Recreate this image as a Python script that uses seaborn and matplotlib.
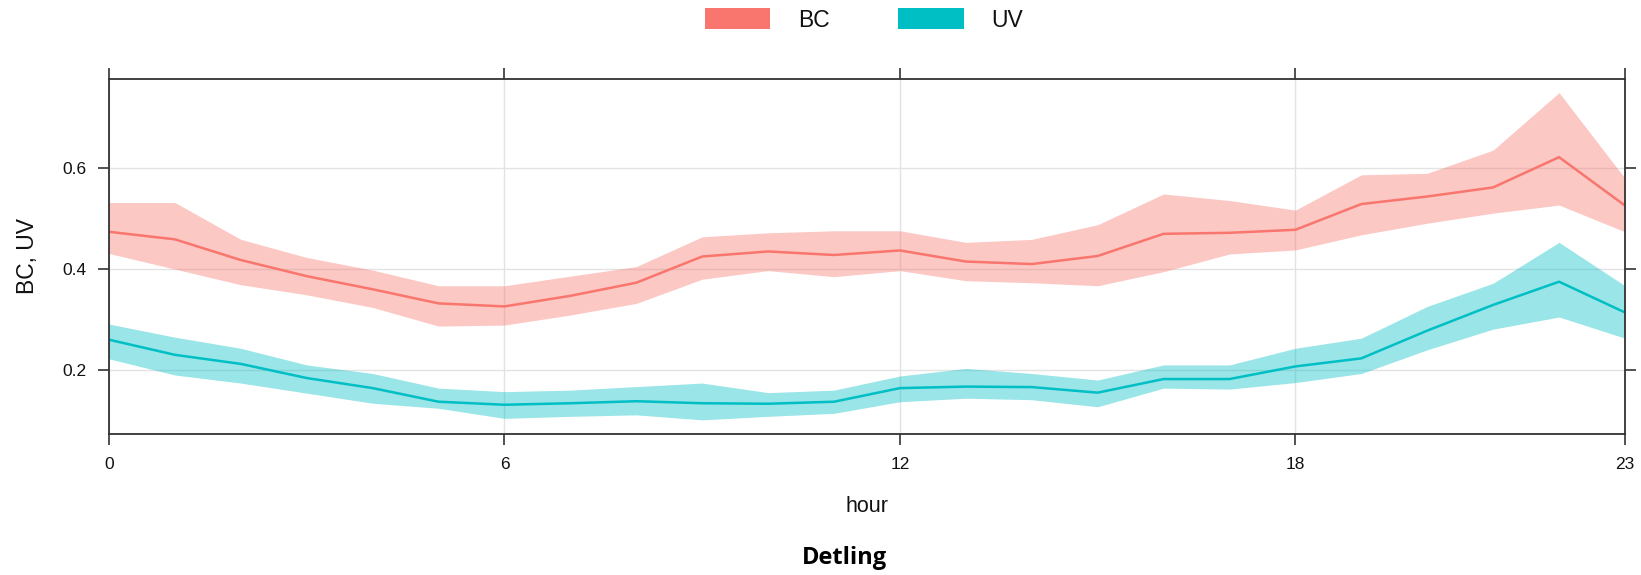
import numpy as np
import pandas as pd
import seaborn as sns
import matplotlib
matplotlib.use("Agg")
import matplotlib.pyplot as plt
from matplotlib.patches import Patch

# ---- data ----
hours = list(range(24))
bc_mean = [0.474, 0.459, 0.418, 0.386, 0.360, 0.332, 0.326, 0.347, 0.373, 0.425, 0.435, 0.428,
           0.437, 0.415, 0.410, 0.426, 0.470, 0.472, 0.478, 0.529, 0.544, 0.562, 0.622, 0.526]
bc_low = [0.431, 0.400, 0.369, 0.349, 0.324, 0.287, 0.289, 0.309, 0.332, 0.380, 0.397, 0.385,
          0.397, 0.377, 0.373, 0.367, 0.395, 0.430, 0.438, 0.468, 0.491, 0.511, 0.527, 0.474]
bc_high = [0.532, 0.532, 0.459, 0.423, 0.398, 0.367, 0.367, 0.386, 0.405, 0.464, 0.472, 0.476,
           0.476, 0.453, 0.459, 0.488, 0.549, 0.536, 0.517, 0.587, 0.590, 0.636, 0.750, 0.580]
uv_mean = [0.260, 0.230, 0.212, 0.184, 0.164, 0.137, 0.131, 0.134, 0.138, 0.134, 0.133, 0.137,
           0.164, 0.167, 0.166, 0.155, 0.182, 0.182, 0.207, 0.223, 0.278, 0.329, 0.375, 0.314]
uv_low = [0.222, 0.190, 0.174, 0.154, 0.134, 0.124, 0.104, 0.108, 0.111, 0.101, 0.108, 0.114,
          0.137, 0.144, 0.141, 0.127, 0.164, 0.162, 0.175, 0.193, 0.240, 0.281, 0.305, 0.263]
uv_high = [0.291, 0.265, 0.243, 0.210, 0.193, 0.164, 0.157, 0.160, 0.167, 0.174, 0.155, 0.160,
           0.188, 0.203, 0.193, 0.180, 0.210, 0.210, 0.243, 0.263, 0.326, 0.372, 0.453, 0.367]
series_names = ["BC", "UV"]
series_colors = ["#F8766D", "#00BFC4"]
x_ticks = [0, 6, 12, 18, 23]
y_ticks = [0.2, 0.4, 0.6]
x_label = "hour"
y_label = "BC, UV"
title = "Detling"

df = pd.DataFrame({
    "hour": hours * 2,
    "value": bc_mean + uv_mean,
    "low": bc_low + uv_low,
    "high": bc_high + uv_high,
    "variable": ["BC"] * 24 + ["UV"] * 24,
})

sns.set_theme(style="white")
plt.rcParams["font.family"] = ["Liberation Sans", "DejaVu Sans"]

fig = plt.figure(figsize=(16.41, 5.75), dpi=100)
ax = fig.add_axes([109 / 1641, 1 - 434 / 575, (1625 - 109) / 1641, (434 - 79) / 575])

# grid
for xv in x_ticks:
    ax.axvline(xv, color="#E3E3E3", lw=1.0, zorder=0)
for yv in y_ticks:
    ax.axhline(yv, color="#E3E3E3", lw=1.0, zorder=0)

for name, col in zip(series_names, series_colors):
    sub = df[df["variable"] == name]
    ax.fill_between(sub["hour"], sub["low"], sub["high"], color=col, alpha=0.4,
                    linewidth=0, zorder=1)

sns.lineplot(data=df, x="hour", y="value", hue="variable", hue_order=series_names,
             palette=series_colors, ax=ax, linewidth=1.8, legend=False, zorder=2,
             errorbar=None)

ax.set_xlim(0, 23)
ax.set_ylim(0.073, 0.777)
ax.set_xticks(x_ticks)
ax.set_yticks(y_ticks)
ax.set_yticklabels([f"{v:.1f}" for v in y_ticks])
ax.tick_params(axis="both", which="both", direction="out", length=8, width=1.1,
               color="#222222", labelsize=12.5, labelcolor="#111111", pad=8.5,
               bottom=True, top=True, left=True, right=True,
               labelbottom=True, labeltop=False, labelleft=True, labelright=False)
for sp in ax.spines.values():
    sp.set_visible(True)
    sp.set_color("#333333")
    sp.set_linewidth(1.3)

ax.set_xlabel(x_label, fontsize=15.5, color="#111111")
ax.set_ylabel(y_label, fontsize=16.5, color="#111111")
ax.xaxis.set_label_coords(0.5, (434 - 507) / (434 - 79))
ax.xaxis.label.set_va("center")
ax.yaxis.set_label_coords((27 - 109) / (1625 - 109), 0.5)
ax.yaxis.label.set_va("center")

handles = [Patch(facecolor=c, edgecolor="none", label=n) for n, c in zip(series_names, series_colors)]
leg = fig.legend(handles=handles, loc="center", bbox_to_anchor=(864 / 1641, 1 - 20 / 575),
                 ncol=2, frameon=False, fontsize=16.5, handlelength=2.85, handleheight=1.0,
                 handletextpad=1.2, columnspacing=3.0)
for t in leg.get_texts():
    t.set_color("#111111")

fig.text(844 / 1641, 1 - 558 / 575, title, ha="center", va="center", color="black",
         fontsize=17, fontweight="bold", family=["Open Sans", "DejaVu Sans"])

fig.savefig("out.png", dpi=100)
